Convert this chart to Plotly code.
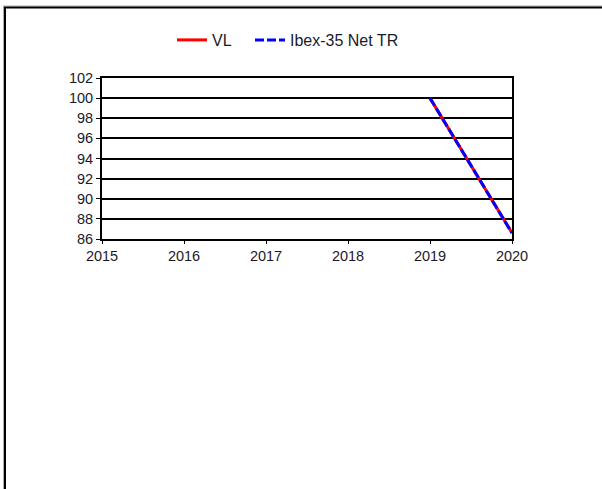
import plotly.graph_objects as go

years = [2019, 2020]
vl_values = [100.0, 86.6]
ibex_values = [100.0, 86.6]
series_names = ["VL", "Ibex-35 Net TR"]
x_ticks = [2015, 2016, 2017, 2018, 2019, 2020]
y_ticks = [86, 88, 90, 92, 94, 96, 98, 100, 102]

W, H = 602, 489
L, R, T, B = 102, 90, 78, 250
pw, ph = W - L - R, H - T - B

def px_x(p):
    return (p - L) / pw

def px_y(p):
    return (H - B - p) / ph

fig = go.Figure()
fig.add_trace(go.Scatter(x=years, y=vl_values, name=series_names[0], mode="lines",
                         line=dict(color="#ff0000", width=3), legend="legend"))
fig.add_trace(go.Scatter(x=years, y=ibex_values, name=series_names[1], mode="lines",
                         line=dict(color="#0000ff", width=3, dash="9px,3px"), legend="legend2"))

tick_font = dict(family="Liberation Sans, Arial, sans-serif", size=14.5, color="#1a1a2a")
leg_font = dict(family="Liberation Sans, Arial, sans-serif", size=16, color="#1a1a2a")

fig.update_layout(
    width=W, height=H,
    margin=dict(l=L, r=R, t=T, b=B, pad=0),
    paper_bgcolor="white", plot_bgcolor="white",
    font=tick_font,
    showlegend=True,
    legend=dict(orientation="h", x=px_x(172), y=px_y(40), xanchor="left", yanchor="middle",
                font=leg_font, bgcolor="rgba(0,0,0,0)"),
    legend2=dict(orientation="h", x=px_x(250), y=px_y(40), xanchor="left", yanchor="middle",
                 font=leg_font, bgcolor="rgba(0,0,0,0)"),
    xaxis=dict(range=[2015, 2020], tickmode="array", tickvals=x_ticks,
               ticktext=[str(v) for v in x_ticks],
               showgrid=False, zeroline=False, showline=True, linecolor="black", linewidth=2,
               mirror=True, ticks="outside", ticklen=3, tickcolor="black", tickwidth=1,
               tickfont=tick_font),
    yaxis=dict(range=[86, 102], tickmode="array", tickvals=y_ticks,
               ticktext=[str(v) for v in y_ticks],
               showgrid=True, gridcolor="black", gridwidth=1.5, zeroline=False,
               showline=True, linecolor="black", linewidth=2, mirror=True,
               ticks="outside", ticklen=4, tickcolor="black", tickwidth=1, tickfont=tick_font),
)

# outer frame: left and top borders with grey shadow
fig.add_shape(type="line", xref="paper", yref="paper", x0=px_x(3.5), x1=px_x(3.5),
              y0=px_y(6), y1=px_y(H + 5), line=dict(color="#aaaaaa", width=1))
fig.add_shape(type="line", xref="paper", yref="paper", x0=px_x(3), x1=px_x(W + 5),
              y0=px_y(6), y1=px_y(6), line=dict(color="#aaaaaa", width=1))
fig.add_shape(type="line", xref="paper", yref="paper", x0=px_x(5), x1=px_x(5),
              y0=px_y(7.5), y1=px_y(H + 5), line=dict(color="black", width=2))
fig.add_shape(type="line", xref="paper", yref="paper", x0=px_x(4), x1=px_x(W + 5),
              y0=px_y(7.5), y1=px_y(7.5), line=dict(color="black", width=2))

fig.write_html("out.html", config={"displayModeBar": False})

with open("out.html", "r", encoding="utf-8") as f:
    html = f.read()
html = html.replace("<body>", '<body style="margin:0;padding:0;overflow:hidden">', 1)
with open("out.html", "w", encoding="utf-8") as f:
    f.write(html)
